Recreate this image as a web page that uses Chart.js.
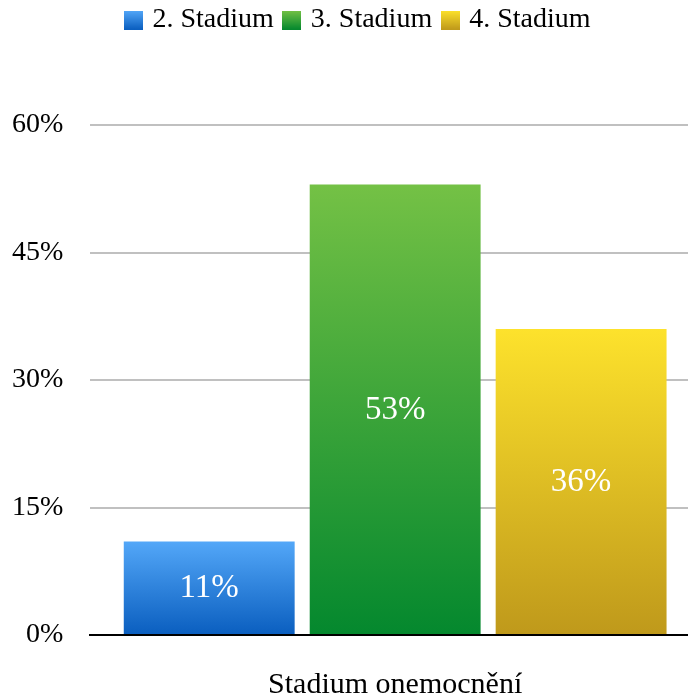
<!DOCTYPE html>
<html>
<head>
<meta charset="utf-8">
<script src="https://cdn.jsdelivr.net/npm/chart.js@4.4.1/dist/chart.umd.min.js"></script>
<style>
  html, body { margin: 0; padding: 0; background: #ffffff; overflow: hidden; }
  #wrap { width: 688px; height: 697px; overflow: hidden; }
</style>
</head>
<body>
<div id="wrap"><canvas id="c" width="700" height="697"></canvas></div>
<script>
// Share of patients by disease stage
const categories = ['Stadium onemocnění'];
const seriesNames = ['2. Stadium', '3. Stadium', '4. Stadium'];
const stage2 = [11];
const stage3 = [53];
const stage4 = [36];
const yTicks = [0, 15, 30, 45, 60];

// Gradient stops (top, bottom) for each series
const gradStops = [
  ['#53a7f8', '#0a5ebf'],
  ['#74c145', '#04882e'],
  ['#fde22c', '#bf991b']
];

const FONT = "'Liberation Serif', 'Times New Roman', serif";

function swatch(stops) {
  const c = document.createElement('canvas');
  c.width = 19; c.height = 19;
  const g = c.getContext('2d');
  const lg = g.createLinearGradient(0, 0, 0, 19);
  lg.addColorStop(0, stops[0]);
  lg.addColorStop(1, stops[1]);
  g.fillStyle = lg;
  g.fillRect(0, 0, 19, 19);
  return c;
}
const swatches = gradStops.map(swatch);

function barFill(idx) {
  return function (ctx) {
    const chart = ctx.chart;
    if (!chart.chartArea || !chart.scales.y) return gradStops[idx][1];
    const v = ctx.raw;
    const y = chart.scales.y;
    const top = y.getPixelForValue(v);
    const bottom = y.getPixelForValue(0);
    if (!isFinite(top) || !isFinite(bottom) || top === bottom) return gradStops[idx][1];
    const g = chart.ctx.createLinearGradient(0, top, 0, bottom);
    g.addColorStop(0, gradStops[idx][0]);
    g.addColorStop(1, gradStops[idx][1]);
    return g;
  };
}

// Writes each bar's value, centred inside the bar
const valueLabels = {
  id: 'valueLabels',
  afterDatasetsDraw(chart) {
    const ctx = chart.ctx;
    ctx.save();
    ctx.fillStyle = '#ffffff';
    ctx.font = '33px ' + FONT;
    ctx.textAlign = 'center';
    ctx.textBaseline = 'middle';
    chart.data.datasets.forEach((ds, i) => {
      const meta = chart.getDatasetMeta(i);
      meta.data.forEach((bar, j) => {
        const v = ds.data[j];
        ctx.fillText(v + '%', bar.x, (bar.y + bar.base) / 2 + 1);
      });
    });
    ctx.restore();
  }
};

// Leaves room between the legend and the plot, and nudges the legend row
const legendGap = {
  id: 'legendGap',
  afterInit(chart) {
    const lg = chart.legend;
    const fit = lg.fit;
    lg.fit = function () {
      fit.call(this);
      this.height = 125;
    };
  },
  afterLayout(chart) {
    const lg = chart.legend;
    lg.left += 17;
    lg.right += 17;
    lg.top -= 7;
  }
};

new Chart(document.getElementById('c'), {
  type: 'bar',
  data: {
    labels: categories,
    datasets: [
      { label: seriesNames[0], data: stage2, backgroundColor: barFill(0) },
      { label: seriesNames[1], data: stage3, backgroundColor: barFill(1) },
      { label: seriesNames[2], data: stage4, backgroundColor: barFill(2) }
    ]
  },
  options: {
    responsive: false,
    animation: false,
    devicePixelRatio: 1,
    categoryPercentage: 0.915,
    barPercentage: 0.919,
    layout: { padding: { left: -15, right: 0, top: 0, bottom: -38 } },
    plugins: {
      tooltip: { enabled: false },
      legend: {
        position: 'top',
        labels: {
          color: '#000000',
          font: { family: FONT, size: 28 },
          usePointStyle: true,
          pointStyleWidth: 10,
          boxWidth: 19,
          boxHeight: 19,
          padding: 13,
          generateLabels(chart) {
            return chart.data.datasets.map((ds, i) => ({
              text: ds.label,
              pointStyle: swatches[i],
              fillStyle: gradStops[i][1],
              strokeStyle: 'rgba(0,0,0,0)',
              lineWidth: 0,
              fontColor: '#000000',
              hidden: !chart.isDatasetVisible(i),
              datasetIndex: i
            }));
          }
        }
      }
    },
    scales: {
      x: {
        grid: { display: false, drawTicks: false },
        border: { display: true, color: '#000000', width: 2 },
        ticks: { color: '#000000', font: { family: FONT, size: 30 }, padding: 32 }
      },
      y: {
        min: 0,
        max: 60,
        afterBuildTicks(axis) { axis.ticks = yTicks.map(v => ({ value: v })); },
        grid: {
          drawTicks: false,
          lineWidth: 2,
          color: (c) => (c.tick && c.tick.value === 0 ? '#000000' : '#c0c0c0')
        },
        border: { display: false },
        ticks: {
          color: '#000000',
          font: { family: FONT, size: 28 },
          padding: 27,
          callback: (v) => v + '%'
        }
      }
    }
  },
  plugins: [valueLabels, legendGap]
});
</script>
</body>
</html>
